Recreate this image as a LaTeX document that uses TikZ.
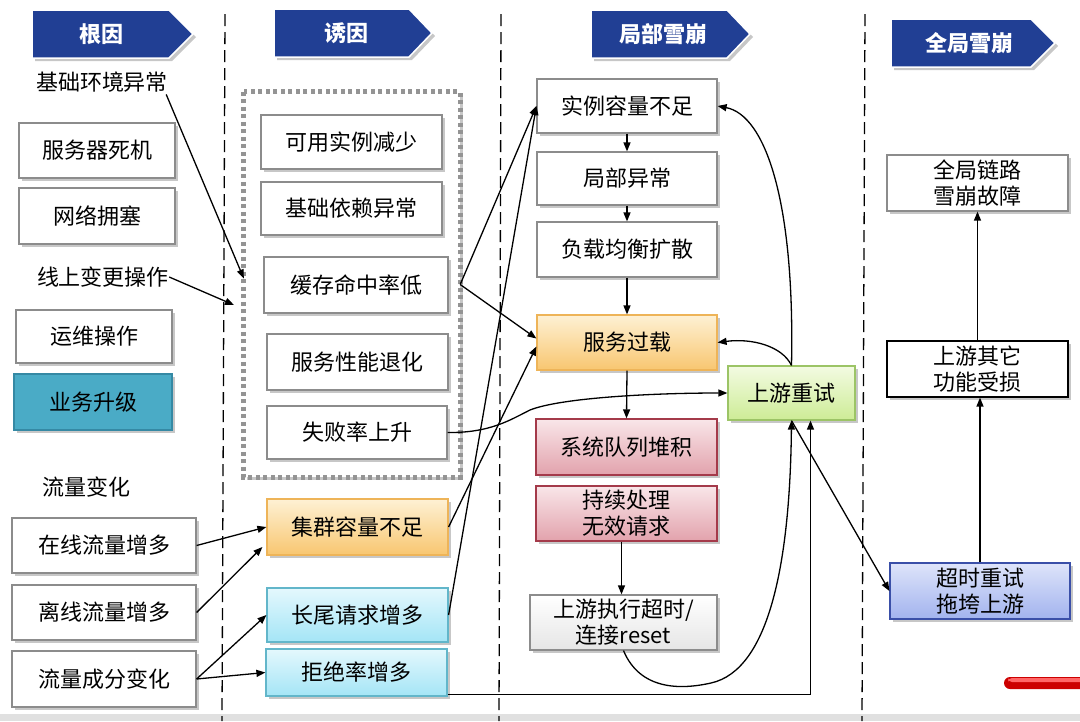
\documentclass[tikz,border=0pt]{standalone}
\usepackage{fontspec}
\setmainfont{Noto Sans CJK SC}
\usetikzlibrary{arrows.meta,shadows,calc}
\definecolor{hdr}{HTML}{213F94}
\definecolor{boxgray}{HTML}{8C8C8C}
\definecolor{orT}{HTML}{FEF1D4}\definecolor{orB}{HTML}{F8C670}\definecolor{orD}{HTML}{EEB458}
\definecolor{cyT}{HTML}{E4F8FD}\definecolor{cyB}{HTML}{A4E5F6}\definecolor{cyD}{HTML}{62B6CA}
\definecolor{grT}{HTML}{F3FBE2}\definecolor{grB}{HTML}{CDEC96}\definecolor{grD}{HTML}{9CC466}
\definecolor{pkT}{HTML}{F9E6E9}\definecolor{pkB}{HTML}{E2A2AC}\definecolor{pkD}{HTML}{A43A4A}
\definecolor{blT}{HTML}{DEE4FA}\definecolor{blB}{HTML}{A2B3EE}\definecolor{blD}{HTML}{3A4FA8}
\definecolor{tealC}{HTML}{4AABC6}\definecolor{tealD}{HTML}{3589A4}
\tikzset{
  shad/.style={drop shadow={shadow xshift=3pt,shadow yshift=-3pt,opacity=0.22,fill=black}},
  box/.style={draw=boxgray,line width=1.2pt,fill=white,inner sep=0pt,align=center,
    font=\fontsize{22}{26}\selectfont,shad},
  orbox/.style={box,draw=orD,top color=orT,bottom color=orB},
  cybox/.style={box,draw=cyD,top color=cyT,bottom color=cyB},
  grbox/.style={box,draw=grD,top color=grT,bottom color=grB},
  pkbox/.style={box,draw=pkD,top color=pkT,bottom color=pkB},
  blbox/.style={box,draw=blD,top color=blT,bottom color=blB},
  lbl/.style={inner sep=0pt,font=\fontsize{22}{26}\selectfont},
  hdrtext/.style={inner sep=0pt,text=white,font=\fontsize{22}{26}\selectfont\bfseries},
  hdrshape/.style={fill=hdr,draw=white,line width=1.5pt,shad},
  colline/.style={line width=1.3pt,dash pattern=on 12pt off 6pt},
  conn/.style={-{Triangle[length=9pt,width=7pt]},line width=1.3pt},
  dotframe/.style={draw=black!42,line width=5pt,dash pattern=on 4pt off 3.5pt},
}
\begin{document}
\begin{tikzpicture}[x=1pt,y=-1pt]
\useasboundingbox (0,0) rectangle (1080,721);
\fill[white] (0,0) rectangle (1080,721);
\fill[black!12] (0,714) rectangle (1080,721);
\fill[red!80!black,rounded corners=6pt] (1004,677) rectangle (1086,689);
\fill[red!60,rounded corners=4pt] (1008,678) rectangle (1086,682);

% column separators
\draw[colline] (225,14) -- (222,721);
\draw[colline] (501,14) -- (499,721);
\draw[colline] (865,14) -- (862,721);

% headers
\path[hdrshape] (32,10) -- (169,10) -- (193,34) -- (169,58) -- (32,58) -- cycle;
\node[hdrtext] (h1) at (101,34) {根因};
\path[hdrshape] (274,9) -- (409,9) -- (432,33) -- (409,57) -- (274,57) -- cycle;
\node[hdrtext] (h2) at (346,33) {诱因};
\path[hdrshape] (591,10) -- (727,10) -- (750,34) -- (727,58) -- (591,58) -- cycle;
\node[hdrtext] (h3) at (663,34) {局部雪崩};
\path[hdrshape] (891,19) -- (1031,19) -- (1055,43) -- (1031,67) -- (891,67) -- cycle;
\node[hdrtext] (h4) at (969,43) {全局雪崩};

% left column
\node[lbl] (t1) at (102,82) {基础环境异常};
\node[box,minimum width=156pt,minimum height=55pt] (b1) at (97,150.5) {服务器死机};
\node[box,minimum width=156pt,minimum height=56pt] (b2) at (97,216) {网络拥塞};
\node[lbl] (t2) at (103,277) {线上变更操作};
\node[box,minimum width=156pt,minimum height=53pt] (b3) at (94,336.5) {运维操作};
\node[box,draw=tealD,fill=tealC,minimum width=158pt,minimum height=56pt] (b4) at (93,402) {业务升级};
\node[lbl] (t3) at (86,487) {流量变化};
\node[box,minimum width=184pt,minimum height=55pt] (b5) at (104,545.5) {在线流量增多};
\node[box,minimum width=184pt,minimum height=55pt] (b6) at (104,612.5) {离线流量增多};
\node[box,minimum width=184pt,minimum height=56pt] (b7) at (104,679) {流量成分变化};

% middle column
\node[minimum width=216pt,minimum height=385pt,inner sep=0pt,shad,fill=white] (grp) at (352,284.5) {};
\draw[dotframe] (grp.north west) rectangle (grp.south east);
\node[box,minimum width=181pt,minimum height=54pt] (m1) at (351.5,142) {可用实例减少};
\node[box,minimum width=181pt,minimum height=53pt] (m2) at (351.5,208.5) {基础依赖异常};
\node[box,minimum width=184pt,minimum height=56pt] (m3) at (356,285) {缓存命中率低};
\node[box,minimum width=181pt,minimum height=56pt] (m4) at (357.5,362) {服务性能退化};
\node[box,minimum width=180pt,minimum height=53pt] (m5) at (357,432.5) {失败率上升};
\node[orbox,minimum width=181pt,minimum height=56pt] (m6) at (357.5,527) {集群容量不足};
\node[cybox,minimum width=181pt,minimum height=54pt] (m7) at (357.5,615) {长尾请求增多};
\node[cybox,minimum width=181pt,minimum height=47pt] (m8) at (356.5,672.5) {拒绝率增多};

% local avalanche column
\node[box,minimum width=180pt,minimum height=54pt] (r1) at (627,106) {实例容量不足};
\node[box,minimum width=180pt,minimum height=53pt] (r2) at (627,178.5) {局部异常};
\node[box,minimum width=180pt,minimum height=55pt] (r3) at (627,249.5) {负载均衡扩散};
\node[orbox,minimum width=180pt,minimum height=55pt] (r4) at (627,342.5) {服务过载};
\node[grbox,minimum width=127pt,minimum height=54pt] (r5) at (791.5,393) {上游重试};
\node[pkbox,minimum width=181pt,minimum height=56pt] (r6) at (626.5,447) {系统队列堆积};
\node[pkbox,minimum width=181pt,minimum height=55pt] (r7) at (626.5,513.5) {持续处理\\无效请求};
\node[box,top color=white,bottom color=black!10,minimum width=187pt,minimum height=55pt] (r8) at (623.5,622.5) {上游执行超时/\\连接reset};

% global avalanche column
\node[box,minimum width=181pt,minimum height=56pt] (g1) at (977.5,183) {全局链路\\雪崩故障};
\node[box,draw=black,minimum width=181pt,minimum height=56pt] (g2) at (977.5,369) {上游其它\\功能受损};
\node[blbox,minimum width=180pt,minimum height=56pt] (g3) at (980,591) {超时重试\\拖垮上游};

% connectors
\coordinate (c1) at (234,305);
\draw[conn] ($(t1.south east)+(-2,2)$) -- ($(grp.west)+(0,-6)$);
\draw[conn] (t2.east) -- (c1);
\draw[conn] (grp.east) -- (r1.west);
\draw[conn] (grp.east) -- ($(r4.west)+(0,-4)$);
\draw[conn] (m7.east) -- (r1.west);
\draw[conn] (m6.east) -- ($(r4.west)+(0,4)$);
\draw[conn] (m5.east) .. controls (490,433) and (510,420) .. (530,410)
   .. controls (560,398) and (650,393) .. (r5.west);
\draw[conn] ($(m8.south east)+(0,-2)$) -| ($(r5.south)+(19,0)$);
\draw[conn] (r1.south) -- (r2.north);
\draw[conn] (r2.south) -- (r3.north);
\draw[conn] (r3.south) -- (r4.north);
\draw[conn] (r4.south) -- (r6.north);
\draw[conn] ($(r7.south)+(-5,0)$) -- ($(r8.north)+(-2,0)$);
\draw[conn] (r8.south) .. controls (640,690) and (680,690) .. (711,683)
   .. controls (770,670) and (790,560) .. (r5.south);
\draw[conn] (r5.south) -- (g3.west);
\draw[conn] (r5.north) .. controls (795,200) and (765,115) .. (r1.east);
\draw[conn] (r5.north) .. controls (782,346) and (752,338) .. (r4.east);
\draw[conn] (g3.north) -- (g3.north |- g2.south);
\draw[conn] (g2.north) -- (g2.north |- g1.south);
\draw[conn] (b5.east) -- (m6.west);
\draw[conn] (b6.east) -- ($(m6.west)+(-4,20)$);
\draw[conn] (b7.east) -- (m7.west);
\draw[conn] (b7.east) -- (m8.west);
\end{tikzpicture}
\end{document}
